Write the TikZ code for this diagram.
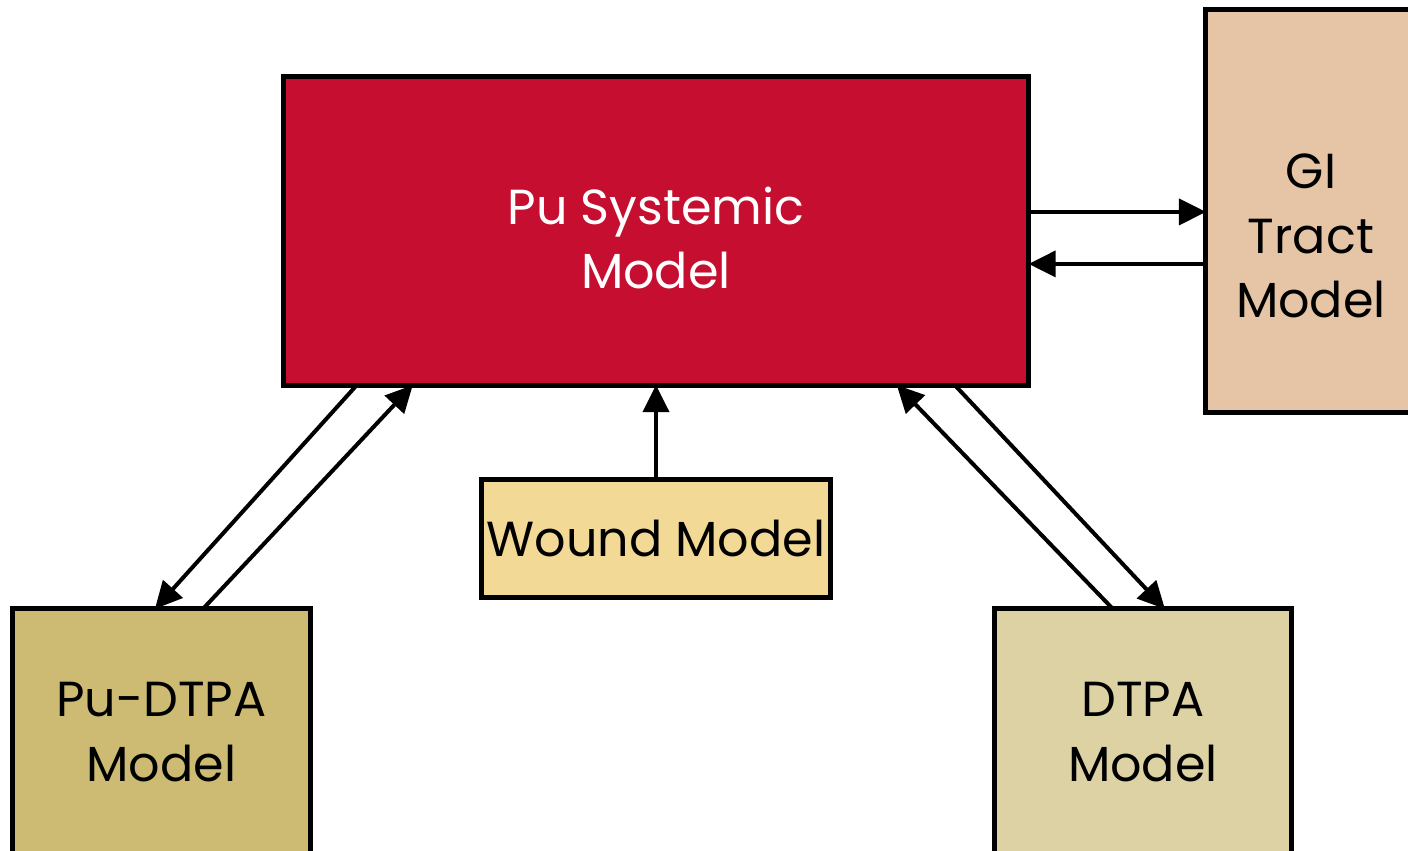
\documentclass[tikz,border=0pt]{standalone}
\usepackage{fontspec}
\setmainfont{Poppins}
\usetikzlibrary{arrows.meta,calc}
\definecolor{sysred}{HTML}{C50E30}
\definecolor{gitan}{HTML}{E5C5A6}
\definecolor{woundy}{HTML}{F3D996}
\definecolor{pudtpa}{HTML}{CDBB74}
\definecolor{dtpac}{HTML}{DDD2A4}
\tikzset{
  box/.style={draw=black, line width=0.05cm, inner sep=0pt, outer sep=0pt, align=center,
    font=\fontsize{14}{18.4}\selectfont},
  arr/.style={draw=black, line width=0.04cm, -{Triangle[length=0.27cm,width=0.26cm]}},
}
\begin{document}
\begin{tikzpicture}[x=0.01cm,y=-0.01cm]
\useasboundingbox (0,0) rectangle (1408,851);
\node[box, fill=sysred, text=white, minimum width=7.45cm, minimum height=3.08cm] (sys) at (656,231) {};
\node[align=center, text=white, font=\fontsize{14}{18.4}\selectfont, inner sep=0pt] (systext) at (656,238) {Pu Systemic\\Model};
\node[box, fill=gitan, minimum width=2.06cm, minimum height=4.02cm] (gi) at (1309,211) {};
\node[align=center, font=\fontsize{14}{18.4}\selectfont, inner sep=0pt] (gitext) at (1311,236) {GI\\Tract\\Model};
\node[box, fill=woundy, minimum width=3.48cm, minimum height=1.17cm] (wound) at (656,538.5) {Wound Model};
\node[box, fill=pudtpa, minimum width=2.97cm, minimum height=2.46cm] (pu) at (161.5,732) {Pu-DTPA\\Model};
\node[box, fill=dtpac, minimum width=2.96cm, minimum height=2.46cm] (dtpa) at (1143,732) {DTPA\\Model};

\coordinate (a1) at ($(sys.north east)+(0,135)$);
\draw[arr] (a1) -- (a1 -| gi.west);
\coordinate (a2) at ($(sys.north east)+(0,187)$);
\draw[arr] (a2 -| gi.west) -- (a2);
\draw[arr] (wound.north) -- (wound.north |- sys.south);
\draw[arr] ($(sys.south west)+(73.5,0)$) -- ($(pu.north west)+(142,0)$);
\draw[arr] ($(pu.north west)+(190,0)$) -- ($(sys.south west)+(129.5,0)$);
\draw[arr] ($(dtpa.north west)+(118,0)$) -- ($(sys.south west)+(613.5,0)$);
\draw[arr] ($(sys.south west)+(671.5,0)$) -- ($(dtpa.north west)+(170,0)$);
\end{tikzpicture}
\end{document}
